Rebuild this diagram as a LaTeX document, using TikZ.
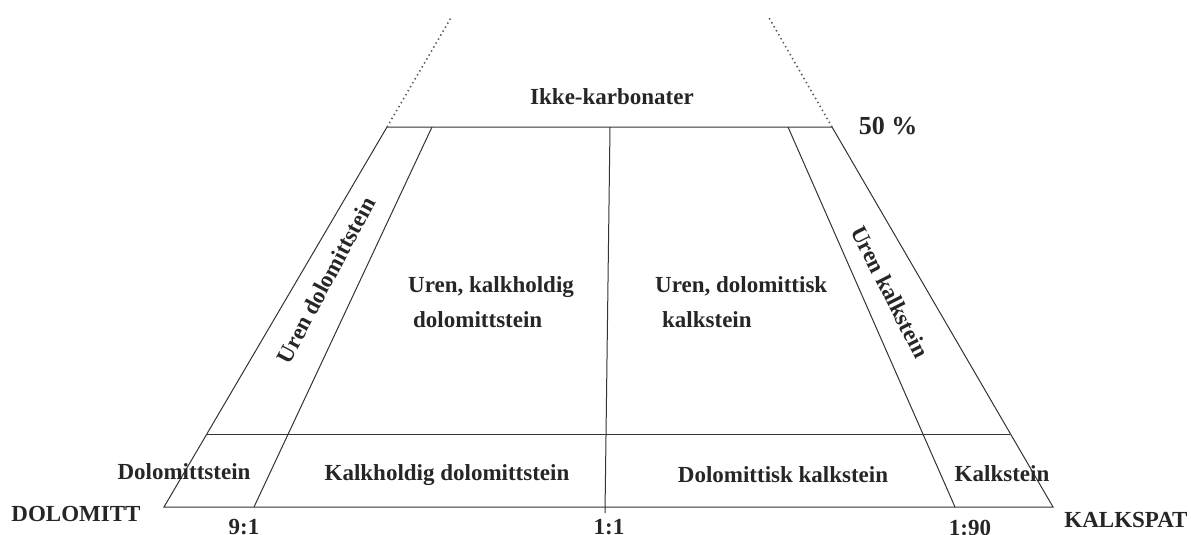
\documentclass[tikz,border=0pt]{standalone}
\usepackage{fontspec}
\setmainfont{Liberation Serif}
\begin{document}
\begin{tikzpicture}[x=1pt,y=-1pt,
  lbl/.style={font=\fontsize{23}{35}\selectfont\bfseries, text=black!85, inner sep=0pt},
  edge/.style={line width=1pt, draw=black!80},
  dotline/.style={line width=1.6pt, draw=black!65, dash pattern=on 1.4pt off 3.2pt}]
\useasboundingbox (0,0) rectangle (1191,535);
\coordinate (BL) at (164,507);
\coordinate (BR) at (1053,507);
\coordinate (TL) at (387,127);
\coordinate (TR) at (832,127);
\coordinate (DL) at (452,16);
\coordinate (DR) at (768,16);
\coordinate (HL) at (207,434);
\coordinate (HR) at (1010,434);
\coordinate (IL1) at (254,507);
\coordinate (IL2) at (432,127);
\coordinate (IR1) at (955,507);
\coordinate (IR2) at (788,127);
\coordinate (C1) at (605,513);
\coordinate (C2) at (610,127);

\draw[edge] (BL) -- (TL) -- (TR) -- (BR) -- cycle;
\draw[edge] (HL) -- (HR);
\draw[edge] (IL1) -- (IL2);
\draw[edge] (IR1) -- (IR2);
\draw[edge] (C1) -- (C2);
\draw[dotline] (TL) -- (DL);
\draw[dotline] (TR) -- (DR);

\node[lbl] (ikke) at (612,97) {Ikke-karbonater};
\node[lbl, font=\fontsize{26}{30}\selectfont\bfseries] (pct) at (888,126) {50 \%};
\node[lbl, rotate=62] (urendol) at (326,280) {Uren dolomittstein};
\node[lbl, rotate=-63] (urenkalk) at (890,292) {Uren kalkstein};
\node[lbl, align=left, anchor=north west] (mid1) at (408,276) {Uren, kalkholdig\\\hspace{5pt}dolomittstein};
\node[lbl, align=left, anchor=north west] (mid2) at (655,276) {Uren, dolomittisk\\\hspace{7pt}kalkstein};
\node[lbl] (dst) at (184,472) {Dolomittstein};
\node[lbl] (kdst) at (447,475) {Kalkholdig dolomittstein};
\node[lbl] (dkst) at (783,475) {Dolomittisk kalkstein};
\node[lbl] (kst) at (1002,474) {Kalkstein};
\node[lbl] (dolo) at (76,514) {DOLOMITT};
\node[lbl] (r91) at (244,527) {9:1};
\node[lbl] (r11) at (609,527) {1:1};
\node[lbl] (r190) at (970,528) {1:90};
\node[lbl] (kspat) at (1126,520) {KALKSPAT};
\end{tikzpicture}
\end{document}
